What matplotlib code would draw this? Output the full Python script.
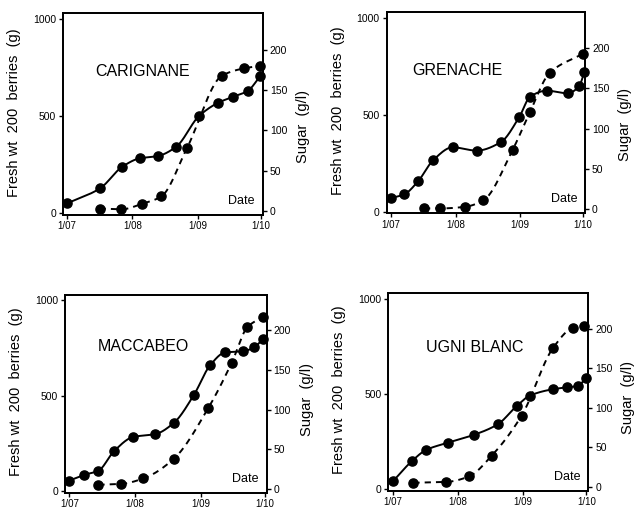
import numpy as np
import matplotlib
matplotlib.use("Agg")
import matplotlib.pyplot as plt

plt.rcParams["font.family"] = ["Liberation Sans", "DejaVu Sans"]

# Days counted from 1 July; tick labels as printed
month_ticks = [0, 31, 62, 92]
month_labels = ["1/07", "1/08", "1/09", "1/10"]

# CARIGNANE
car_w_days = [0, 15.7, 26.2, 34.4, 43.1, 51.8, 62.6, 71.6, 78.7, 85.8, 91.7]
car_weight = [51, 129, 240, 283, 295, 343, 501, 569, 600, 631, 707]
car_s_days = [15.4, 25.7, 35.7, 44.7, 56.9, 73.6, 84.2, 91.7]
car_sugar = [3, 2, 9, 18, 78, 168, 177, 180]

# GRENACHE
gre_w_days = [0, 6.5, 13.2, 20.4, 29.6, 41.1, 52.6, 61.6, 66.7, 74.7, 84.6, 90.2, 92.7]
gre_weight = [69, 89, 158, 266, 331, 314, 357, 489, 592, 623, 609, 647, 720]
gre_s_days = [15.9, 23.6, 35.5, 44.3, 58.4, 66.7, 76.0, 92.0]
gre_sugar = [1, 1, 3, 11, 74, 121, 169, 193]

# MACCABEO
mac_w_days = [0, 7.1, 13.7, 21.2, 30.2, 40.4, 49.3, 58.8, 66.3, 73.4, 81.7, 87.0, 91.1]
mac_weight = [55, 85, 106, 211, 284, 298, 358, 506, 659, 727, 733, 753, 796]
mac_s_days = [13.7, 24.2, 34.9, 49.3, 65.5, 76.5, 83.9, 91.1]
mac_sugar = [5, 6, 13, 38, 102, 159, 204, 217]

# UGNI BLANC
ugn_w_days = [0.4, 9.4, 15.9, 26.5, 38.7, 50.2, 58.9, 65.2, 76.3, 83.0, 88.2, 91.8]
ugn_weight = [43, 149, 205, 244, 285, 342, 436, 491, 525, 535, 542, 586]
ugn_s_days = [9.9, 25.4, 36.3, 47.0, 61.3, 76.3, 85.5, 90.9]
ugn_sugar = [5, 6, 13, 39, 90, 176, 201, 204]

varieties = ["CARIGNANE", "GRENACHE", "MACCABEO", "UGNI BLANC"]


def smooth(x, y, n=300):
    # monotone cubic curve through the measured points, for drawing only
    x = np.asarray(x, float)
    y = np.asarray(y, float)
    h = np.diff(x)
    d = np.diff(y) / h
    m = np.zeros_like(y)
    for k in range(1, len(y) - 1):
        if d[k - 1] * d[k] > 0:
            w1 = 2 * h[k] + h[k - 1]
            w2 = h[k] + 2 * h[k - 1]
            m[k] = (w1 + w2) / (w1 / d[k - 1] + w2 / d[k])
    m[0] = d[0]
    m[-1] = d[-1]
    xs = np.linspace(x[0], x[-1], n)
    i = np.clip(np.searchsorted(x, xs) - 1, 0, len(h) - 1)
    t = (xs - x[i]) / h[i]
    ys = ((2 * t**3 - 3 * t**2 + 1) * y[i] + (t**3 - 2 * t**2 + t) * h[i] * m[i]
          + (-2 * t**3 + 3 * t**2) * y[i + 1] + (t**3 - t**2) * h[i] * m[i + 1])
    return xs, ys


panels = [
    (car_w_days, car_weight, car_s_days, car_sugar),
    (gre_w_days, gre_weight, gre_s_days, gre_sugar),
    (mac_w_days, mac_weight, mac_s_days, mac_sugar),
    (ugn_w_days, ugn_weight, ugn_s_days, ugn_sugar),
]

# axes rectangles (figure fractions) and name positions
rects = [
    [0.0987, 0.5776, 0.3135, 0.396],
    [0.606, 0.581, 0.311, 0.396],
    [0.102, 0.032, 0.316, 0.389],
    [0.6087, 0.036, 0.3135, 0.388],
]
name_pos = [(0.40, 0.71), (0.357, 0.71), (0.39, 0.736), (0.43, 0.726)]
sugar_label_y = [0.44, 0.44, 0.47, 0.47]

fig = plt.figure(figsize=(6.38, 5.09), dpi=100)

for k, (wd, w, sd, s) in enumerate(panels):
    ax = fig.add_axes(rects[k])
    ax2 = ax.twinx()

    xs, ys = smooth(wd, w)
    ax.plot(xs, ys, color="black", lw=1.4, solid_capstyle="round")
    ax.plot(wd, w, "o", color="black", ms=6.6, clip_on=False)

    xs, ys = smooth(sd, s)
    ax2.plot(xs, ys, color="black", lw=1.4, linestyle=(0, (3.2, 2.6)))
    ax2.plot(sd, s, "o", color="black", ms=6.6, clip_on=False)

    ax.set_xlim(-2, 93)
    ax.set_ylim(-9, 1030)
    ax2.set_ylim(-5, 245)

    ax.set_xticks(month_ticks)
    ax.set_xticklabels(month_labels, fontsize=7)
    ax.set_yticks([0, 500, 1000])
    ax.set_yticklabels(["0", "500", "1000"], fontsize=7.5)
    ax2.set_yticks([0, 50, 100, 150, 200])
    ax2.set_yticklabels(["0", "50", "100", "150", "200"], fontsize=7.5)
    ax.tick_params(direction="out", length=3, width=1, pad=2)
    ax.tick_params(axis="x", pad=1.5)
    ax2.tick_params(direction="out", length=3, width=1, pad=2)

    for sp in ax.spines.values():
        sp.set_linewidth(1.3)
    for sp in ax2.spines.values():
        sp.set_linewidth(1.3)

    ax.set_ylabel("Fresh wt  200  berries  (g)", fontsize=10.5)
    ax.yaxis.set_label_coords(-0.21, 0.51)
    ax2.set_ylabel("Sugar  (g/l)", fontsize=10.5)
    ax2.yaxis.set_label_coords(1.165, sugar_label_y[k])

    ax.text(name_pos[k][0], name_pos[k][1], varieties[k], transform=ax.transAxes,
            ha="center", va="center", fontsize=11.5)
    ax.text(0.96, 0.07, "Date", transform=ax.transAxes, ha="right", va="center",
            fontsize=9)

plt.savefig("out.png", dpi=100)
